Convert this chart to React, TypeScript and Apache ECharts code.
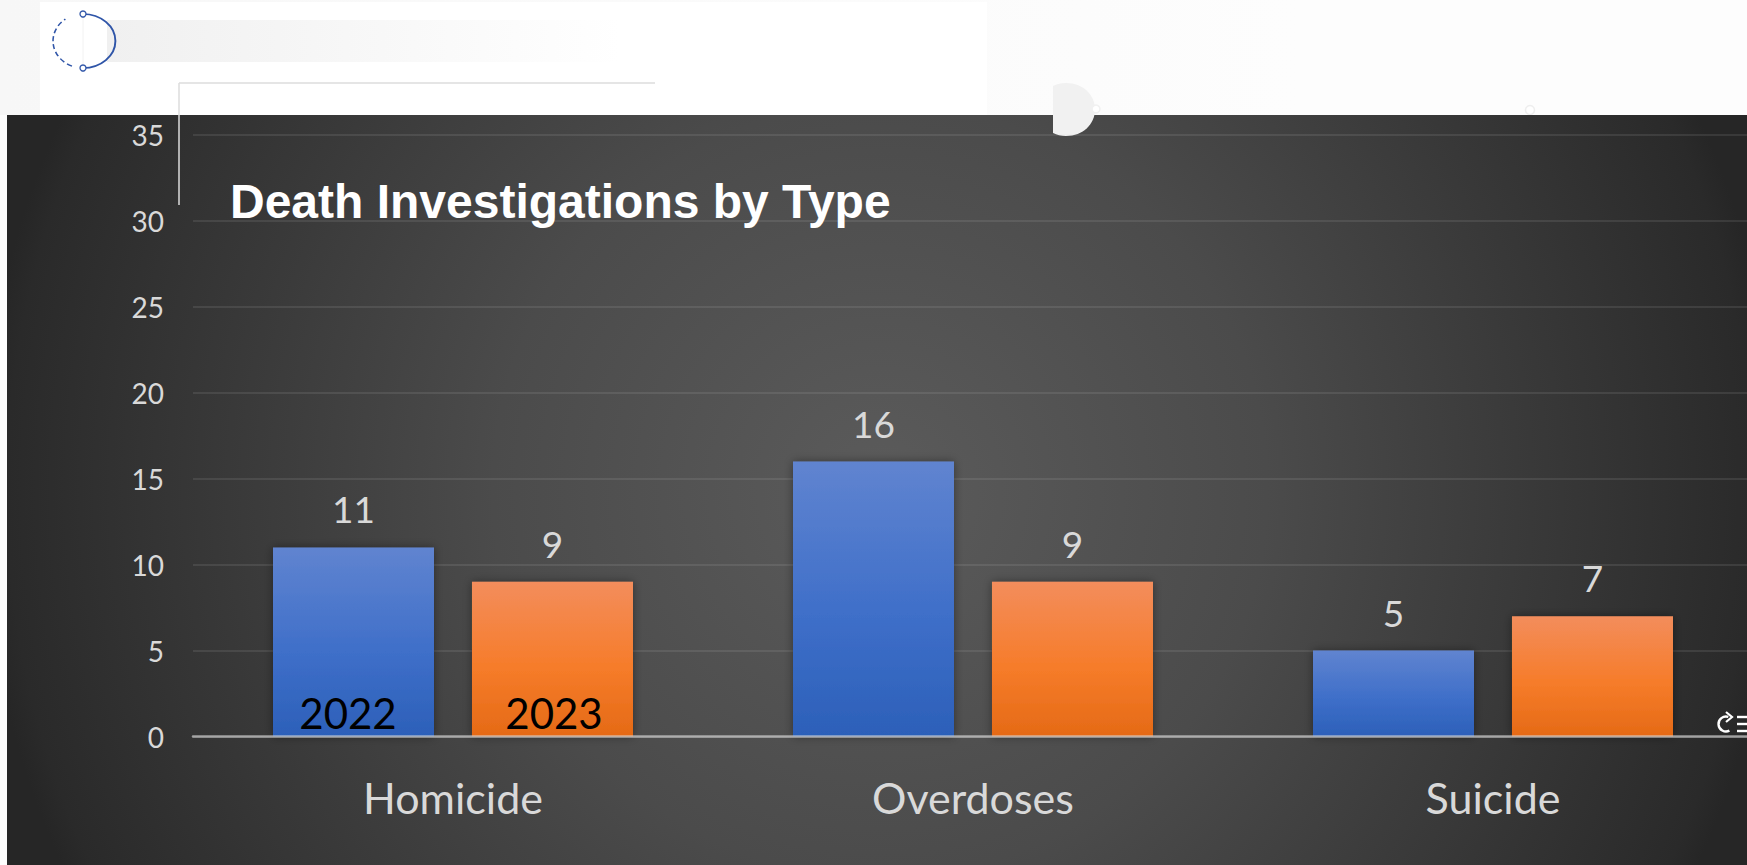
import React, { useEffect, useRef } from "react";
import * as echarts from "echarts";

const categories = ["Homicide", "Overdoses", "Suicide"];
const values2022 = [11, 16, 5];
const values2023 = [9, 9, 7];
const yearLabels = ["2022", "2023"];
const chartTitle = "Death Investigations by Type";
const labelFont = "Lato, 'Open Sans', sans-serif";

echarts.graphic.registerShape(
  "dShape",
  echarts.graphic.extendPath(
    "M0 3 C 4 1 8 0 13 0 C 30 0 42 12 42 26.5 C 42 41 30 53 13 53 C 8 53 4 52 0 50 Z",
    {}
  )
);

function linear(stops: [number, string][]) {
  return new echarts.graphic.LinearGradient(
    0, 0, 0, 1,
    stops.map(([offset, color]) => ({ offset, color }))
  );
}

export default function App() {
  const ref = useRef<HTMLDivElement>(null);
  useEffect(() => {
    document.body.style.margin = "0";
    document.body.style.overflow = "hidden";
    const chart = echarts.init(ref.current!, undefined, { renderer: "svg" });
    const barLabel = {
      show: true,
      position: "top" as const,
      distance: 20,
      color: "#d9d9d9",
      fontSize: 37,
      fontFamily: labelFont,
    };
    const shadow = {
      shadowColor: "rgba(0,0,0,0.4)",
      shadowBlur: 10,
      shadowOffsetX: 0,
      shadowOffsetY: 0,
    };
    const blue = "#2f55a8";
    chart.setOption({
      animation: false,
      backgroundColor: "#fdfdfd",
      graphic: [
        {
          type: "rect", z: -6, shape: { x: 0, y: 0, width: 1300, height: 115 },
          style: {
            fill: new echarts.graphic.LinearGradient(0, 0, 1, 0, [
              { offset: 0, color: "#f7f7f7" },
              { offset: 1, color: "#fdfdfd" },
            ]),
          },
        },
        { type: "rect", z: -5, shape: { x: 40, y: 2, width: 947, height: 113 }, style: { fill: "#ffffff" } },
        {
          type: "rect", z: -5, shape: { x: 107, y: 20, width: 513, height: 42 },
          style: {
            fill: new echarts.graphic.LinearGradient(0, 0, 1, 0, [
              { offset: 0, color: "#f0f0f0" },
              { offset: 1, color: "#ffffff" },
            ]),
          },
        },
        { type: "line", z: -5, shape: { x1: 179, y1: 83, x2: 655, y2: 83 }, style: { stroke: "#dcdcdc", lineWidth: 1.5 } },
        { type: "line", z: -5, shape: { x1: 83, y1: 14, x2: 83, y2: 68 }, style: { stroke: "#f2f2f2", lineWidth: 1 } },
        { type: "arc", z: -4, x: 83, y: 41, scaleX: 1.2, shape: { cx: 0, cy: 0, r: 27, startAngle: -Math.PI / 2, endAngle: Math.PI / 2 }, style: { stroke: blue, lineWidth: 1.6, fill: "none" } },
        { type: "arc", z: -4, x: 83, y: 41, scaleX: 1.11, shape: { cx: 0, cy: 0, r: 27, startAngle: Math.PI * 0.62, endAngle: Math.PI * 1.3 }, style: { stroke: blue, lineWidth: 1.4, fill: "none", lineDash: [5, 3] } },
        { type: "circle", z: -4, shape: { cx: 83, cy: 14, r: 3 }, style: { stroke: blue, lineWidth: 1.3, fill: "#ffffff" } },
        { type: "circle", z: -4, shape: { cx: 83, cy: 68, r: 3 }, style: { stroke: blue, lineWidth: 1.3, fill: "#ffffff" } },
        { type: "circle", z: -5, shape: { cx: 1530, cy: 110, r: 4.5 }, style: { stroke: "#eeeeee", lineWidth: 1.5, fill: "#ffffff" } },
        {
          type: "rect", z: -3, shape: { x: 7, y: 115, width: 1740, height: 750 },
          style: {
            fill: new echarts.graphic.RadialGradient(880, 490, 900, [
              { offset: 0, color: "#5b5b5b" },
              { offset: 0.43, color: "#4b4b4b" },
              { offset: 0.97, color: "#2a2a2a" },
              { offset: 1, color: "#262626" },
            ], true),
          },
        },
        { type: "line", z: -2, shape: { x1: 179, y1: 83, x2: 179, y2: 205 }, style: { stroke: "#dcdcdc", lineWidth: 1.5 } },
        { type: "dShape", z: -2, x: 1053, y: 83, style: { fill: "#f1f1f1" } },
        { type: "circle", z: -2, shape: { cx: 1096, cy: 109, r: 4 }, style: { stroke: "#f1f1f1", lineWidth: 1.5, fill: "#ffffff" } },
        {
          type: "text", z: 10, x: 230, y: 225,
          style: { text: chartTitle, fill: "#ffffff", font: "bold 48px 'Liberation Sans', Arial, sans-serif", textVerticalAlign: "bottom" },
        },
        {
          type: "text", z: 10, x: 348, y: 734,
          style: { text: yearLabels[0], fill: "#000000", font: `42px ${labelFont}`, textAlign: "center", textVerticalAlign: "bottom" },
        },
        {
          type: "text", z: 10, x: 554, y: 734,
          style: { text: yearLabels[1], fill: "#000000", font: `42px ${labelFont}`, textAlign: "center", textVerticalAlign: "bottom" },
        },
        { type: "arc", z: 10, shape: { cx: 1726, cy: 724, r: 7.5, startAngle: -Math.PI * 0.4, endAngle: Math.PI * 0.35, clockwise: false }, style: { stroke: "#ffffff", lineWidth: 2.4, fill: "none" } },
        { type: "polyline", z: 10, shape: { points: [[1726, 712], [1732, 717], [1726, 722]] }, style: { stroke: "#ffffff", lineWidth: 2.2, fill: "none" } },
        { type: "line", z: 10, shape: { x1: 1737, y1: 717, x2: 1747, y2: 717 }, style: { stroke: "#ffffff", lineWidth: 2.4 } },
        { type: "line", z: 10, shape: { x1: 1737, y1: 724, x2: 1747, y2: 724 }, style: { stroke: "#ffffff", lineWidth: 2.4 } },
        { type: "line", z: 10, shape: { x1: 1737, y1: 731, x2: 1747, y2: 731 }, style: { stroke: "#ffffff", lineWidth: 2.4 } },
      ],
      grid: { left: 193, width: 1560, top: 135, height: 601.5, outerBoundsMode: "none" },
      xAxis: {
        type: "category",
        data: categories,
        z: 5,
        axisTick: { show: false },
        axisLine: { lineStyle: { color: "rgba(217,217,217,0.65)", width: 2.5 } },
        axisLabel: { color: "#d9d9d9", fontSize: 43, fontFamily: labelFont, margin: 39 },
      },
      yAxis: {
        type: "value",
        min: 0,
        max: 35,
        interval: 5,
        axisLine: { show: false },
        axisTick: { show: false },
        axisLabel: { color: "#d9d9d9", fontSize: 28, fontFamily: labelFont, margin: 29, padding: [0, 0, 3, 0] },
        splitLine: { lineStyle: { color: "rgba(217,217,217,0.11)", width: 2 } },
      },
      series: [
        {
          type: "bar",
          name: yearLabels[0],
          data: values2022,
          barWidth: 161,
          barGap: "23.6%",
          label: barLabel,
          itemStyle: {
            ...shadow,
            color: linear([[0, "#6084d0"], [0.55, "#3f6fc9"], [1, "#2c60b9"]]),
          },
        },
        {
          type: "bar",
          name: yearLabels[1],
          data: values2023,
          barWidth: 161,
          label: barLabel,
          itemStyle: {
            ...shadow,
            color: linear([[0, "#f38d5c"], [0.55, "#f67c2a"], [1, "#e56a16"]]),
          },
        },
      ],
    });
    return () => chart.dispose();
  }, []);
  return (
    <div
      ref={ref}
      style={{ position: "fixed", left: 0, top: 0, width: 1747, height: 865 }}
    />
  );
}
